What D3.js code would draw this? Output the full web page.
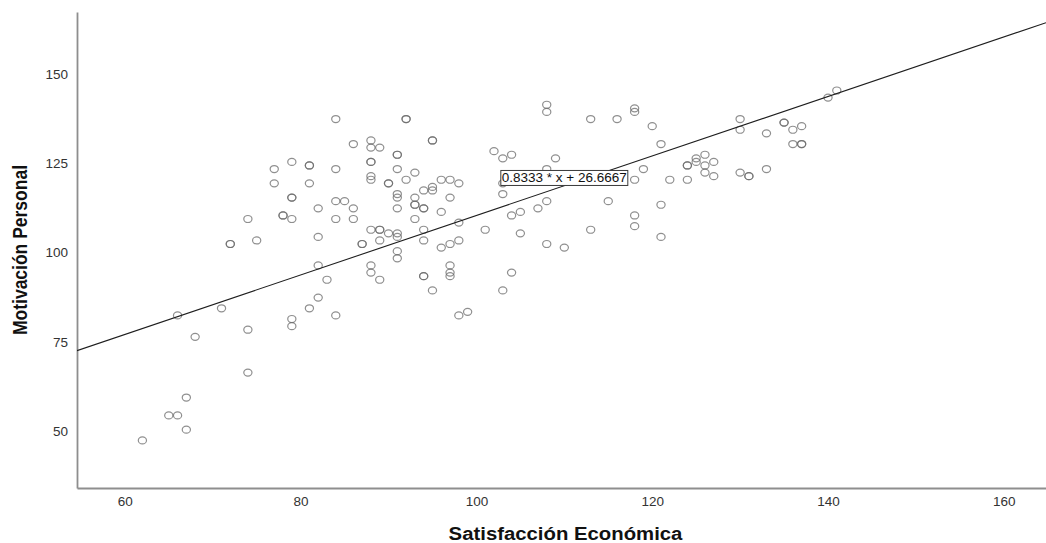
<!DOCTYPE html>
<html>
<head>
<meta charset="utf-8">
<script src="https://cdn.jsdelivr.net/npm/d3@7"></script>
<style>
  body { margin: 0; background: #fff; }
  svg { display: block; font-family: "Liberation Sans", Arial, sans-serif; }
</style>
</head>
<body>
<svg id="chart" width="1046" height="543"></svg>
<script>
// Satisfacción Económica (x) and Motivación Personal (y), one entry per case
const satisfaccion = [
  62, 65, 66, 67, 67, 66, 68, 71, 74, 74, 79, 79, 72, 72, 75, 74, 77, 77, 79, 81, 81, 81, 79, 79, 82, 78, 78, 79, 82, 82, 83, 82, 81,
  84, 92, 92, 86, 88, 88, 89, 95, 95, 91, 91, 88, 88, 84, 91, 93, 88, 88, 90, 90, 92, 96, 97, 98, 95, 95, 94, 91, 91, 93, 97, 93, 93, 94, 94, 91, 96, 84, 85, 86, 84, 86, 93,
  88, 89, 89, 90, 91, 91, 94, 98, 101, 87, 87, 89, 94, 91, 91, 96, 97, 98, 88, 88, 89, 94, 94, 97, 97, 97, 95, 84, 98, 99, 103,
  108, 108, 113, 116, 118, 118, 120, 121, 102, 103, 104, 109, 108, 119, 118, 122, 103, 103, 108, 115, 121, 107, 104, 105, 118,
  105, 108, 110, 113, 118, 121, 104,
  141, 140, 130, 130, 135, 135, 136, 137, 133, 136, 137, 137, 124, 124, 125, 125, 126, 126, 127, 126, 127, 124, 130, 131, 131, 133
];
const motivacion = [
  47, 54, 54, 59, 50, 82, 76, 84, 78, 66, 81, 79, 102, 102, 103, 109, 123, 119, 125, 124, 124, 119, 115, 115, 112, 110, 110, 109, 104, 96, 92, 87, 84,
  137, 137, 137, 130, 131, 129, 129, 131, 131, 127, 127, 125, 125, 123, 123, 122, 121, 120, 119, 119, 120, 120, 120, 119, 118, 117, 117, 116, 115, 115, 115, 113, 113, 112, 112, 112, 111, 114, 114, 112, 109, 109, 109,
  106, 106, 106, 105, 105, 104, 106, 108, 106, 102, 102, 103, 103, 100, 98, 101, 102, 103, 96, 94, 92, 93, 93, 96, 94, 93, 89, 82, 82, 83, 89,
  141, 139, 137, 137, 140, 139, 135, 130, 128, 126, 127, 126, 123, 123, 120, 120, 119, 116, 114, 114, 113, 112, 110, 111, 110,
  105, 102, 101, 106, 107, 104, 94,
  145, 143, 137, 134, 136, 136, 134, 135, 133, 130, 130, 130, 124, 124, 126, 125, 127, 124, 125, 122, 121, 120, 122, 121, 121, 123
];

const xTicks = [60, 80, 100, 120, 140, 160];
const yTicks = [50, 75, 100, 125, 150];

// Linear fit shown on the chart
const fitSlope = 0.8333;
const fitIntercept = 26.6667;
const fitLabel = "0.8333 * x + 26.6667";
const fitLabelAt = [110, 120.5];

const xTitle = "Satisfacción Económica";
const yTitle = "Motivación Personal";

const svg = d3.select("#chart");
const plot = { left: 77, right: 1046, top: 12, bottom: 488 };

const x = d3.scaleLinear().domain([54.56, 164.8]).range([plot.left, plot.right]);
const y = d3.scaleLinear().domain([33.67, 166.98]).range([plot.bottom, plot.top]);

svg.append("defs").append("clipPath").attr("id", "plot-clip")
  .append("rect")
  .attr("x", plot.left).attr("y", plot.top)
  .attr("width", plot.right - plot.left).attr("height", plot.bottom - plot.top);

// Axes
const yAxis = svg.append("g")
  .attr("transform", `translate(${plot.left},0)`)
  .call(d3.axisLeft(y).tickValues(yTicks).tickSize(0).tickSizeOuter(0).tickPadding(9));
const xAxis = svg.append("g")
  .attr("transform", `translate(0,${plot.bottom})`)
  .call(d3.axisBottom(x).tickValues(xTicks).tickSize(0).tickSizeOuter(0).tickPadding(8));

[xAxis, yAxis].forEach(g => {
  g.select(".domain").attr("stroke", "#8e8e8e").attr("stroke-width", 1.8);
  g.selectAll(".tick text")
    .attr("fill", "#333")
    .style("font-size", "13.5px")
    .style("font-family", "\"Liberation Sans\", Arial, sans-serif");
});
yAxis.selectAll(".tick text").attr("dy", "0.42em");

// Scatter points (markers are slightly wider than tall)
const cases = satisfaccion.map((v, i) => ({ sx: v, my: motivacion[i] }));
svg.append("g")
  .attr("clip-path", "url(#plot-clip)")
  .selectAll("ellipse")
  .data(cases)
  .join("ellipse")
  .attr("cx", d => x(d.sx))
  .attr("cy", d => y(d.my))
  .attr("rx", 4.1)
  .attr("ry", 3.5)
  .attr("fill", "none")
  .attr("stroke", "#6a6a6a")
  .attr("stroke-opacity", 0.75)
  .attr("stroke-width", 1.2);

// Fit line across the full x domain
const [x0, x1] = x.domain();
svg.append("line")
  .attr("clip-path", "url(#plot-clip)")
  .attr("x1", x(x0)).attr("y1", y(fitSlope * x0 + fitIntercept))
  .attr("x2", x(x1)).attr("y2", y(fitSlope * x1 + fitIntercept))
  .attr("stroke", "#1e1e1e")
  .attr("stroke-width", 1.1);

// Equation label in a box
const labelG = svg.append("g");
const labelText = labelG.append("text")
  .attr("x", x(fitLabelAt[0]))
  .attr("y", y(fitLabelAt[1]))
  .attr("text-anchor", "middle")
  .attr("dominant-baseline", "central")
  .attr("fill", "#111")
  .style("font-size", "13.5px")
  .text(fitLabel);
const bb = labelText.node().getBBox();
labelG.insert("rect", "text")
  .attr("x", bb.x - 1).attr("y", bb.y)
  .attr("width", bb.width + 2).attr("height", bb.height)
  .attr("fill", "#fff")
  .attr("stroke", "#3a3a3a")
  .attr("stroke-width", 1);

// Axis titles (bold, horizontally widened)
svg.append("text")
  .attr("transform", `translate(${(plot.left + plot.right) / 2 + 4},540) scale(1.13,1)`)
  .attr("text-anchor", "middle")
  .attr("fill", "#111")
  .style("font-size", "18px")
  .style("font-weight", "bold")
  .text(xTitle);

svg.append("text")
  .attr("transform", "translate(27,250) scale(1.13,1) rotate(-90)")
  .attr("text-anchor", "middle")
  .attr("fill", "#111")
  .style("font-size", "17.5px")
  .style("font-weight", "bold")
  .text(yTitle);
</script>
</body>
</html>
